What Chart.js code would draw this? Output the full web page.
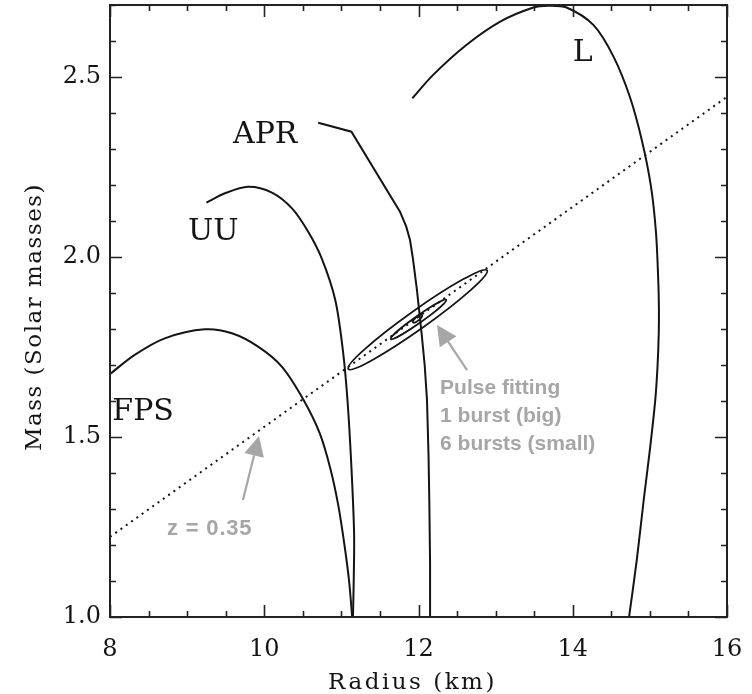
<!DOCTYPE html>
<html>
<head>
<meta charset="utf-8">
<title>Neutron star mass-radius relations</title>
<script src="https://cdn.jsdelivr.net/npm/chart.js@4.4.1/dist/chart.umd.min.js"></script>
<style>
  html, body { margin: 0; padding: 0; background: #ffffff; }
  #wrap { width: 752px; height: 694px; position: relative; }
</style>
</head>
<body>
<div id="wrap"><canvas id="mr" width="752" height="694"></canvas></div>
<script>
// ---- Mass-radius curves for four equations of state (radius in km, mass in solar masses)
const fpsRadius = [8.00, 8.32, 8.71, 9.23, 9.58, 9.92, 10.23, 10.51, 10.72, 10.86, 10.96, 11.04, 11.10, 11.14];
const fpsMass   = [1.675, 1.728, 1.774, 1.799, 1.788, 1.751, 1.695, 1.603, 1.510, 1.410, 1.310, 1.200, 1.100, 1.000];

const uuRadius = [9.25, 9.49, 9.79, 10.10, 10.36, 10.57, 10.745, 10.92, 11.02, 11.08, 11.13, 11.165, 11.16, 11.15];
const uuMass   = [2.151, 2.177, 2.195, 2.179, 2.135, 2.070, 1.996, 1.881, 1.740, 1.600, 1.417, 1.232, 1.100, 1.000];

const aprRadius = [10.70, 11.13, 11.76, 11.84, 11.89, 11.93, 11.98, 12.04, 12.08, 12.11, 12.13, 12.14, 12.15, 12.15];
const aprMass   = [2.373, 2.348, 2.126, 2.085, 2.047, 1.992, 1.908, 1.788, 1.700, 1.603, 1.450, 1.325, 1.150, 1.000];

const lRadius = [11.92, 12.19, 12.62, 13.06, 13.49, 13.68, 13.92, 14.27, 14.53, 14.74, 14.895, 15.015, 15.08, 15.11, 15.117, 15.115, 15.10, 15.07, 15.00, 14.92, 14.83, 14.73];
const lMass   = [2.441, 2.506, 2.589, 2.654, 2.693, 2.698, 2.693, 2.644, 2.556, 2.445, 2.325, 2.195, 2.066, 1.927, 1.860, 1.788, 1.700, 1.603, 1.464, 1.325, 1.158, 1.000];

// Constant surface redshift z = 0.35 (end points of the line)
const redshiftRadius = [8.0, 16.0];
const redshiftMass   = [1.2226, 2.445];

// Pulse-fitting confidence contours: the two tips of each ellipse and
// the half-depth in mass through its centre (big, small, smallest)
const contourLowR    = [11.09, 11.64, 11.93];
const contourLowM    = [1.689, 1.772, 1.818];
const contourHighR   = [12.89, 12.36, 12.045];
const contourHighM   = [1.963, 1.881, 1.839];
const contourHalfDepth = [0.032, 0.012, 0.0066];

// Axis ticks
const xTickValues = [8, 10, 12, 14, 16];
const xTickLabels = ['8', '10', '12', '14', '16'];
const yTickValues = [1.0, 1.5, 2.0, 2.5];
const yTickLabels = ['1.0', '1.5', '2.0', '2.5'];

// Curve names and annotation texts
const curveNames = ['FPS', 'UU', 'APR', 'L'];
const redshiftNote = 'z = 0.35';
const pulseNote = ['Pulse fitting', '1 burst (big)', '6 bursts (small)'];

// ---- presentation settings
const serif = '"DejaVu Serif", "Liberation Serif", serif';
const sans = '"Liberation Sans", Arial, sans-serif';
const ink = '#141414';
const grey = '#a6a6a6';

// where the curve names sit (data coordinates of the text baseline start)
const curveNameAt = [[8.03, 1.547], [9.01, 2.047], [9.595, 2.317], [14.0, 2.544]];
// annotation placements (data coordinates)
const redshiftNoteAt = [8.74, 1.228];
const pulseNoteAt = [[12.28, 1.619], [12.28, 1.542], [12.28, 1.464]];
const arrows = [
  { from: [9.724, 1.325], to: [9.932, 1.503] },
  { from: [12.629, 1.686], to: [12.24, 1.811] }
];

function pts(xs, ys) { return xs.map((v, i) => ({ x: v, y: ys[i] })); }

function curve(label, xs, ys, tension) {
  return {
    label, data: pts(xs, ys), showLine: true, pointRadius: 0,
    borderColor: ink, borderWidth: 2, tension, fill: false
  };
}

const decorations = {
  id: 'decorations',
  afterDatasetsDraw(chart) {
    const { ctx, chartArea: ca } = chart;
    const xs = chart.scales.x, ys = chart.scales.y;
    const px = v => xs.getPixelForValue(v);
    const py = v => ys.getPixelForValue(v);
    ctx.save();

    // confidence ellipses
    ctx.strokeStyle = ink;
    ctx.lineWidth = 1.8;
    for (let i = 0; i < contourLowR.length; i++) {
      const ax = px(contourLowR[i]), ay = py(contourLowM[i]);
      const bx = px(contourHighR[i]), by = py(contourHighM[i]);
      const cx = (ax + bx) / 2, cy = (ay + by) / 2;
      const cM = (contourLowM[i] + contourHighM[i]) / 2;
      const a = Math.hypot(bx - ax, by - ay) / 2;
      const th = Math.atan2(by - ay, bx - ax);
      const h = Math.abs(py(cM + contourHalfDepth[i]) - py(cM));
      const b = Math.abs(Math.cos(th)) / Math.sqrt(1 / (h * h) - Math.sin(th) ** 2 / (a * a));
      ctx.beginPath();
      ctx.ellipse(cx, cy, a, b, th, 0, Math.PI * 2);
      ctx.stroke();
    }

    // frame
    ctx.strokeStyle = '#222';
    ctx.lineWidth = 2;
    ctx.strokeRect(ca.left, ca.top, ca.right - ca.left, ca.bottom - ca.top);

    // inward ticks on all four sides: majors every 2 km / 0.5 Msun, minors every 0.5 km / 0.1 Msun
    ctx.lineWidth = 1.6;
    ctx.beginPath();
    for (let k = 0; k <= 16; k++) {
      const x = Math.round(px(8 + k * 0.5)) + 0.5;
      const len = k % 4 === 0 ? 12 : 6;
      ctx.moveTo(x, ca.bottom); ctx.lineTo(x, ca.bottom - len);
      ctx.moveTo(x, ca.top); ctx.lineTo(x, ca.top + len);
    }
    for (let k = 0; k <= 17; k++) {
      const y = Math.round(py(1 + k * 0.1)) + 0.5;
      const len = k % 5 === 0 ? 12 : 6;
      ctx.moveTo(ca.left, y); ctx.lineTo(ca.left + len, y);
      ctx.moveTo(ca.right, y); ctx.lineTo(ca.right - len, y);
    }
    ctx.stroke();

    // curve names
    ctx.fillStyle = ink;
    ctx.font = '30px ' + serif;
    ctx.textAlign = 'left';
    ctx.textBaseline = 'alphabetic';
    curveNames.forEach((t, i) => ctx.fillText(t, px(curveNameAt[i][0]), py(curveNameAt[i][1])));

    // grey arrows
    ctx.strokeStyle = grey;
    ctx.fillStyle = grey;
    ctx.lineWidth = 2.2;
    arrows.forEach(ar => {
      const x0 = px(ar.from[0]), y0 = py(ar.from[1]);
      const x1 = px(ar.to[0]), y1 = py(ar.to[1]);
      const ang = Math.atan2(y1 - y0, x1 - x0);
      const hl = 20, hw = 10;
      const bx = x1 - hl * Math.cos(ang), by = y1 - hl * Math.sin(ang);
      ctx.beginPath();
      ctx.moveTo(x0, y0); ctx.lineTo(bx, by);
      ctx.stroke();
      ctx.beginPath();
      ctx.moveTo(x1, y1);
      ctx.lineTo(bx + hw * Math.sin(ang), by - hw * Math.cos(ang));
      ctx.lineTo(bx - hw * Math.sin(ang), by + hw * Math.cos(ang));
      ctx.closePath();
      ctx.fill();
    });

    // grey notes
    ctx.font = 'bold 22px ' + sans;
    ctx.letterSpacing = '0.8px';
    ctx.fillText(redshiftNote, px(redshiftNoteAt[0]), py(redshiftNoteAt[1]));
    ctx.font = 'bold 21px ' + sans;
    ctx.letterSpacing = '0px';
    pulseNote.forEach((t, i) => ctx.fillText(t, px(pulseNoteAt[i][0]), py(pulseNoteAt[i][1])));

    // axis titles
    ctx.fillStyle = ink;
    ctx.font = '23px ' + serif;
    ctx.letterSpacing = '2.5px';
    ctx.textAlign = 'center';
    ctx.textBaseline = 'middle';
    ctx.fillText('Radius (km)', (ca.left + ca.right) / 2 - 6, 683);
    ctx.letterSpacing = '1.5px';
    ctx.translate(35, (ca.top + ca.bottom) / 2 + 6);
    ctx.rotate(-Math.PI / 2);
    ctx.fillText('Mass (Solar masses)', 0, 0);
    ctx.restore();
  }
};

new Chart(document.getElementById('mr'), {
  type: 'scatter',
  data: {
    datasets: [
      curve('FPS', fpsRadius, fpsMass, 0.3),
      curve('UU', uuRadius, uuMass, 0.3),
      curve('APR', aprRadius, aprMass, 0),
      curve('L', lRadius, lMass, 0.3),
      {
        label: 'z = 0.35', data: pts(redshiftRadius, redshiftMass), showLine: true,
        pointRadius: 0, borderColor: ink, borderWidth: 2, borderDash: [2, 4.5], fill: false
      }
    ]
  },
  options: {
    responsive: false,
    animation: false,
    devicePixelRatio: 1,
    layout: { padding: { top: 5, right: 25, left: 0, bottom: 0 } },
    plugins: { legend: { display: false }, tooltip: { enabled: false } },
    scales: {
      x: {
        type: 'linear', min: 8, max: 16,
        border: { display: false },
        grid: { display: false, drawTicks: false },
        afterBuildTicks: s => { s.ticks = xTickValues.map(v => ({ value: v })); },
        afterFit: s => { s.height = 77; s.paddingLeft = 0; s.paddingRight = 0; },
        ticks: {
          color: ink, padding: 18, maxRotation: 0, autoSkip: false,
          font: { family: serif, size: 24 },
          callback: (v, i) => xTickLabels[i]
        }
      },
      y: {
        type: 'linear', min: 1.0, max: 2.7,
        border: { display: false },
        grid: { display: false, drawTicks: false },
        afterBuildTicks: s => { s.ticks = yTickValues.map(v => ({ value: v })); },
        afterFit: s => { s.width = 110; s.paddingTop = 0; s.paddingBottom = 0; },
        ticks: {
          color: ink, padding: 9, autoSkip: false,
          font: { family: serif, size: 24 },
          callback: (v, i) => yTickLabels[i]
        }
      }
    }
  },
  plugins: [decorations]
});
</script>
</body>
</html>
